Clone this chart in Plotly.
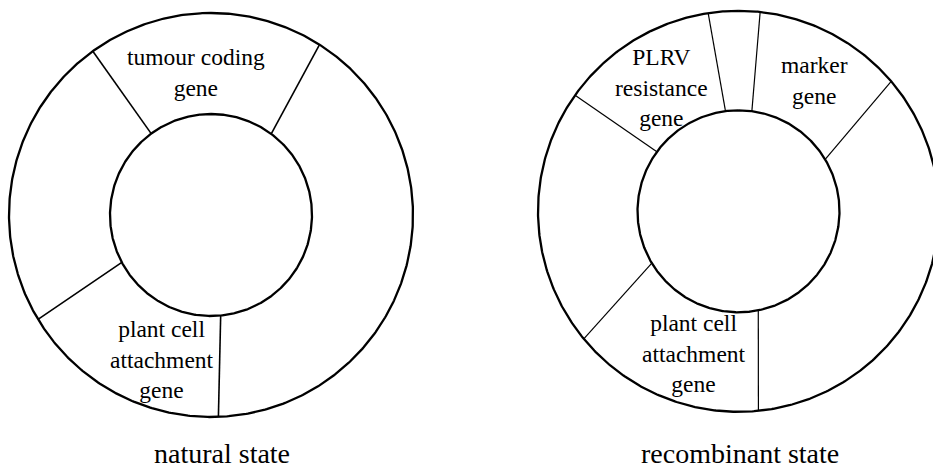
import numpy as np
import plotly.graph_objects as go

# ---------------- data ----------------
# Boundary angles between the ring segments, degrees clockwise from 12 o'clock.
# The hand-drawn dividers are not exactly radial, so the angle where each divider
# meets the outer circle and the inner circle are both given.
natural_outer_bounds = [-35.8, 32.5, 177.9, 238.9]
natural_inner_bounds = [-36.3, 36.6, 174.5, 242.0]
natural_labels = ["tumour coding<br>gene", "plant cell<br>attachment<br>gene"]
natural_title = "natural state"

recomb_outer_bounds = [-54.6, -8.7, 6.2, 49.6, 174.3, 230.5]
recomb_inner_bounds = [-53.9, -7.4, 7.6, 59.1, 168.7, 239.1]
recomb_labels = ["PLRV<br>resistance<br>gene", "marker<br>gene",
                 "plant cell<br>attachment<br>gene"]
recomb_title = "recombinant state"

# ---------------- layout constants (pixel space) ----------------
W, H = 933, 469
rings = [
    dict(cx=211.0, cy=215.0, r_out=202.0, r_in=101.0, div_w=1.6,
         outer=natural_outer_bounds, inner=natural_inner_bounds,
         labels=natural_labels, label_pos=[(196, 72), (162, 359)],
         title=natural_title, title_pos=(222, 453)),
    dict(cx=738.5, cy=211.3, r_out=200.5, r_in=101.0, div_w=1.2,
         outer=recomb_outer_bounds, inner=recomb_inner_bounds,
         labels=recomb_labels, label_pos=[(661, 87), (814, 80), (694, 353)],
         title=recomb_title, title_pos=(740, 453)),
]
LABEL_FONT = dict(family="Liberation Serif, Times New Roman, serif", size=23.5, color="black")
TITLE_FONT = dict(family="Liberation Serif, Times New Roman, serif", size=28, color="black")


def polar_pt(cx, cy, r, deg):
    a = np.radians(deg)
    return cx + r * np.sin(a), cy - r * np.cos(a)


fig = go.Figure()
annotations = []
t = np.linspace(0, 360, 721)
for ring in rings:
    cx, cy = ring["cx"], ring["cy"]
    # outer and inner circles
    for r in (ring["r_out"], ring["r_in"]):
        x, y = polar_pt(cx, cy, r, t)
        fig.add_trace(go.Scatter(x=x, y=y, mode="lines",
                                 line=dict(color="black", width=2.3),
                                 hoverinfo="skip", showlegend=False))
    # segment dividers
    for a_out, a_in in zip(ring["outer"], ring["inner"]):
        x0, y0 = polar_pt(cx, cy, ring["r_out"], a_out)
        x1, y1 = polar_pt(cx, cy, ring["r_in"], a_in)
        fig.add_trace(go.Scatter(x=[x0, x1], y=[y0, y1], mode="lines",
                                 line=dict(color="black", width=ring["div_w"]),
                                 hoverinfo="skip", showlegend=False))
    for text, (lx, ly) in zip(ring["labels"], ring["label_pos"]):
        annotations.append(dict(x=lx, y=ly, xref="x", yref="y", text=text,
                                showarrow=False, font=LABEL_FONT,
                                xanchor="center", yanchor="middle", align="center"))
    tx, ty = ring["title_pos"]
    annotations.append(dict(x=tx, y=ty, xref="x", yref="y", text=ring["title"],
                            showarrow=False, font=TITLE_FONT,
                            xanchor="center", yanchor="middle"))

fig.update_layout(
    width=W, height=H,
    margin=dict(l=0, r=0, t=0, b=0),
    paper_bgcolor="white", plot_bgcolor="white",
    xaxis=dict(range=[0, W], visible=False, fixedrange=True),
    yaxis=dict(range=[H, 0], visible=False, fixedrange=True),
    annotations=annotations,
    showlegend=False,
)

fig.write_html("out.html",
               config={"displayModeBar": False, "staticPlot": True},
               post_script="document.body.style.margin='0';document.body.style.overflow='hidden';")
